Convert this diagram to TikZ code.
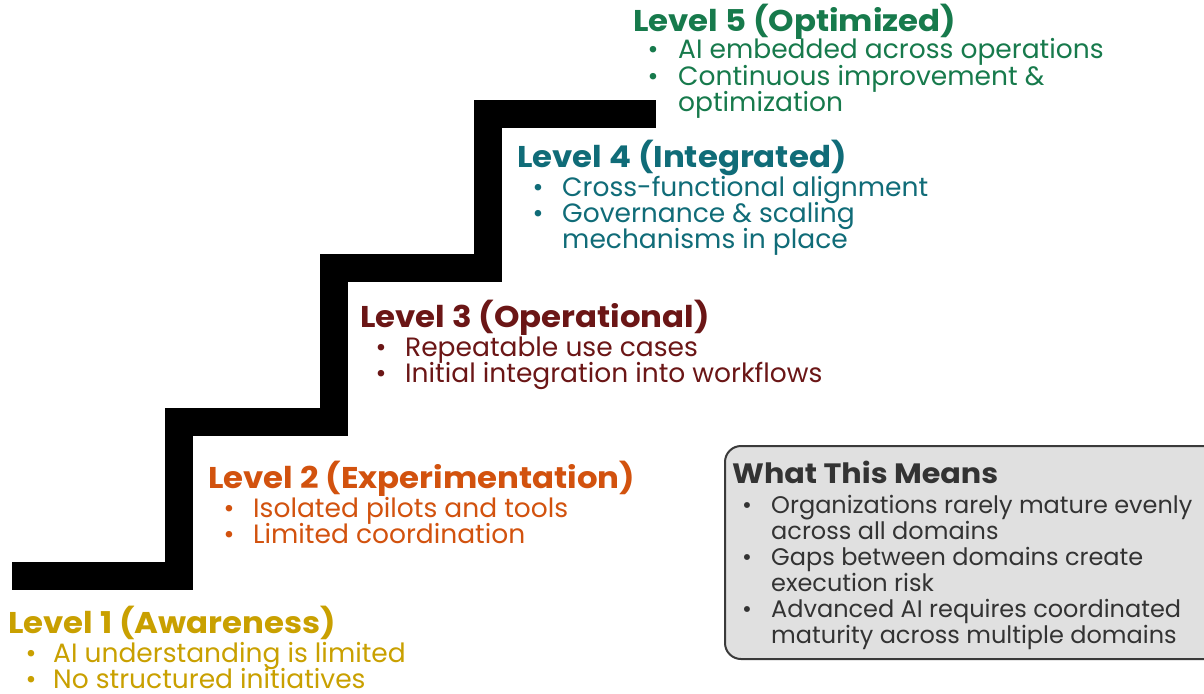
\documentclass[tikz,border=0pt]{standalone}
\usepackage{fontspec}
\setmainfont{Poppins}[BoldFeatures={FakeStretch=1.08}]
\definecolor{cfive}{HTML}{177A4C}
\definecolor{cfour}{HTML}{106C78}
\definecolor{cthree}{HTML}{6B1616}
\definecolor{ctwo}{HTML}{D2520E}
\definecolor{cone}{HTML}{C9A000}
\definecolor{boxfill}{HTML}{E0E0E0}
\definecolor{boxline}{HTML}{3A3A3A}
\definecolor{boxtext}{HTML}{333333}
\begin{document}
\begin{tikzpicture}[x=1pt,y=-1pt,
  title/.style={anchor=base west,inner sep=0pt,font=\fontsize{30}{34}\selectfont\bfseries},
  item/.style={anchor=base west,inner sep=0pt,font=\fontsize{26.5}{30}\selectfont},
  dot/.style={anchor=base,inner sep=0pt,font=\fontsize{26.5}{30}\selectfont},
  btitle/.style={anchor=base west,inner sep=0pt,font=\fontsize{28}{32}\selectfont\bfseries},
  bitem/.style={anchor=base west,inner sep=0pt,font=\fontsize{24}{28}\selectfont},
  bdot/.style={anchor=base,inner sep=0pt,font=\fontsize{24}{28}\selectfont},
  stair/.style={line width=28pt,line join=miter,line cap=butt,black}]
\useasboundingbox (0,0) rectangle (1204,693);
\fill[white] (0,0) rectangle (1204,693);
% staircase
\coordinate (s0) at (12,576);
\coordinate (s1) at (179,576);
\coordinate (s2) at (179,422);
\coordinate (s3) at (334,422);
\coordinate (s4) at (334,268);
\coordinate (s5) at (488,268);
\coordinate (s6) at (488,114);
\coordinate (s7) at (656,114);
\draw[stair] (s0) -- (s1) -- (s2) -- (s3) -- (s4) -- (s5) -- (s6) -- (s7);
% Level 5
\begin{scope}[color=cfive]
\node[title] (t5) at (633,32) {Level 5 (Optimized)};
\node[dot] (d5a) at (653,59) {•};
\node[item] (l5a) at (678,59) {AI embedded across operations};
\node[dot] (d5b) at (653,85) {•};
\node[item] (l5b) at (678,85) {Continuous improvement \&};
\node[item] (l5c) at (678,111) {optimization};
\end{scope}
% Level 4
\begin{scope}[color=cfour]
\node[title] (t4) at (517,167) {Level 4 (Integrated)};
\node[dot] (d4a) at (538,196) {•};
\node[item] (l4a) at (562,196) {Cross-functional alignment};
\node[dot] (d4b) at (538,222) {•};
\node[item] (l4b) at (562,222) {Governance \& scaling};
\node[item] (l4c) at (562,248) {mechanisms in place};
\end{scope}
% Level 3
\begin{scope}[color=cthree]
\node[title] (t3) at (360,327) {Level 3 (Operational)};
\node[dot] (d3a) at (381,356) {•};
\node[item] (l3a) at (405,356) {Repeatable use cases};
\node[dot] (d3b) at (381,382) {•};
\node[item] (l3b) at (405,382) {Initial integration into workflows};
\end{scope}
% Level 2
\begin{scope}[color=ctwo]
\node[title] (t2) at (208,488) {Level 2 (Experimentation)};
\node[dot] (d2a) at (229,517) {•};
\node[item] (l2a) at (253,517) {Isolated pilots and tools};
\node[dot] (d2b) at (229,543) {•};
\node[item] (l2b) at (253,543) {Limited coordination};
\end{scope}
% Level 1
\begin{scope}[color=cone]
\node[title] (t1) at (8,633) {Level 1 (Awareness)};
\node[dot] (d1a) at (31,662) {•};
\node[item] (l1a) at (53,662) {AI understanding is limited};
\node[dot] (d1b) at (31,688) {•};
\node[item] (l1b) at (53,688) {No structured initiatives};
\end{scope}
% box
\draw[fill=boxfill,draw=boxline,line width=2pt,rounded corners=16pt] (725,446) rectangle (1220,659);
\begin{scope}[color=boxtext]
\node[btitle] (tb) at (732,483) {What This Means};
\node[bdot] (db1) at (747,513) {•};
\node[bitem] (lb1) at (771,513) {Organizations rarely mature evenly};
\node[bitem] (lb2) at (771,539) {across all domains};
\node[bdot] (db2) at (747,565) {•};
\node[bitem] (lb3) at (771,565) {Gaps between domains create};
\node[bitem] (lb4) at (771,591) {execution risk};
\node[bdot] (db3) at (747,617) {•};
\node[bitem] (lb5) at (771,617) {Advanced AI requires coordinated};
\node[bitem] (lb6) at (771,643) {maturity across multiple domains};
\end{scope}
\end{tikzpicture}
\end{document}
